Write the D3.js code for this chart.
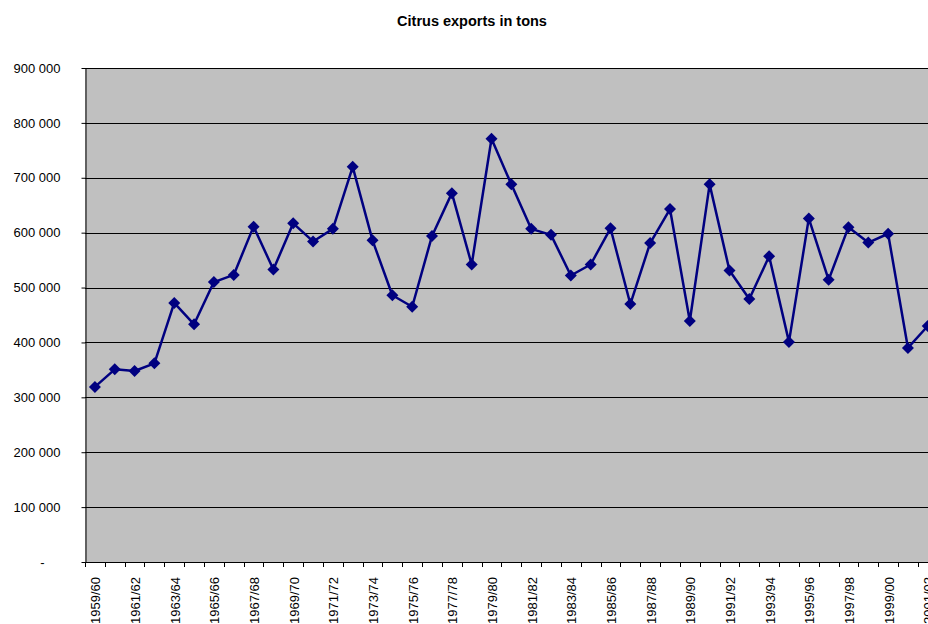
<!DOCTYPE html>
<html lang="en">
  <head>
    <meta charset="UTF-8" />
    <title>Citrus exports in tons</title>
    <script src="https://d3js.org/d3.v7.min.js"></script>
    <style>
      body { margin: 0; background: #fff; }
      svg { display: block; font-family: Arial, 'Liberation Sans', sans-serif; }
    </style>
  </head>
  <body>
    <script>
      let width = 928
      let height = 624

      // seasons, 1959/60 .. 2001/02 (chart is cut at the right edge)
      let seasons = [
        '1959/60', '1960/61', '1961/62', '1962/63', '1963/64', '1964/65',
        '1965/66', '1966/67', '1967/68', '1968/69', '1969/70', '1970/71',
        '1971/72', '1972/73', '1973/74', '1974/75', '1975/76', '1976/77',
        '1977/78', '1978/79', '1979/80', '1980/81', '1981/82', '1982/83',
        '1983/84', '1984/85', '1985/86', '1986/87', '1987/88', '1988/89',
        '1989/90', '1990/91', '1991/92', '1992/93', '1993/94', '1994/95',
        '1995/96', '1996/97', '1997/98', '1998/99', '1999/00', '2000/01',
        '2001/02'
      ]

      // exports in tons
      let exportsTons = [
        319000, 351000, 348000, 362000, 472000, 433000,
        510000, 523000, 611000, 533000, 617000, 584000,
        607000, 720000, 586000, 486000, 465000, 594000,
        672000, 542000, 771000, 688000, 607000, 596000,
        522000, 542000, 608000, 470000, 581000, 643000,
        439000, 688000, 531000, 479000, 557000, 401000,
        626000, 514000, 610000, 582000, 598000, 390000,
        430000
      ]

      let yTicks = [0, 100000, 200000, 300000, 400000, 500000, 600000, 700000, 800000, 900000]

      let margin = { top: 68, left: 85, bottom: 62 }
      let step = 19.83
      let plotRight = margin.left + seasons.length * step

      let x = d3.scaleBand()
        .domain(seasons)
        .range([margin.left, plotRight])
        .paddingInner(0)
        .paddingOuter(0)

      let y = d3.scaleLinear()
        .domain([0, 900000])
        .range([height - margin.bottom, margin.top])

      let svg = d3.select('body')
        .append('svg')
        .attr('width', width)
        .attr('height', height)

      // grey plot area
      svg.append('rect')
        .attr('x', margin.left)
        .attr('y', margin.top)
        .attr('width', plotRight - margin.left)
        .attr('height', y(0) - margin.top)
        .attr('fill', '#c0c0c0')

      // gridlines
      svg.append('g')
        .selectAll('line')
        .data(yTicks.filter(d => d > 0))
        .enter()
        .append('line')
        .attr('x1', margin.left)
        .attr('x2', plotRight)
        .attr('y1', d => Math.round(y(d)) + 0.5)
        .attr('y2', d => Math.round(y(d)) + 0.5)
        .attr('stroke', '#000')
        .attr('stroke-width', 1.2)

      // y axis
      let fmt = d => d === 0 ? '-' : d3.format(',')(d).replace(/,/g, ' ')
      let yAxis = svg.append('g')
        .attr('transform', `translate(${margin.left + 0.5},0)`)
        .call(d3.axisLeft(y).tickValues(yTicks).tickSize(4).tickSizeOuter(0).tickFormat(fmt))
      yAxis.select('.domain').attr('stroke', '#000')
      yAxis.selectAll('.tick line').attr('stroke', '#000')
      yAxis.selectAll('.tick text')
        .attr('x', -25)
        .attr('font-size', 13)
        .attr('font-family', 'Arial, Liberation Sans, sans-serif')
        .attr('fill', '#000')
        .filter(d => d === 0)
        .attr('x', -41)

      // x axis: ticks on band edges, labels on every other season
      let xg = svg.append('g')
      xg.append('line')
        .attr('x1', margin.left)
        .attr('x2', plotRight)
        .attr('y1', Math.round(y(0)) + 0.5)
        .attr('y2', Math.round(y(0)) + 0.5)
        .attr('stroke', '#000')
      xg.selectAll('line.tick')
        .data(seasons)
        .enter()
        .append('line')
        .attr('class', 'tick')
        .attr('x1', d => Math.round(x(d)) + 0.5)
        .attr('x2', d => Math.round(x(d)) + 0.5)
        .attr('y1', y(0))
        .attr('y2', y(0) + 5)
        .attr('stroke', '#000')
      xg.selectAll('text')
        .data(seasons.filter((d, i) => i % 2 === 0))
        .enter()
        .append('text')
        .attr('transform', d => `translate(${x(d) + x.bandwidth() / 2 + 1},${y(0) + 15}) rotate(-90)`)
        .attr('text-anchor', 'end')
        .attr('dy', '0.35em')
        .attr('font-size', 13)
        .text(d => d)

      // series line
      let line = d3.line()
        .x((d, i) => x(seasons[i]) + x.bandwidth() / 2)
        .y(d => y(d))

      svg.append('path')
        .datum(exportsTons)
        .attr('d', line)
        .attr('fill', 'none')
        .attr('stroke', '#000080')
        .attr('stroke-width', 2.5)
        .attr('stroke-linejoin', 'round')

      // diamond markers
      let r = 6
      svg.append('g')
        .selectAll('path')
        .data(exportsTons)
        .enter()
        .append('path')
        .attr('transform', (d, i) => `translate(${x(seasons[i]) + x.bandwidth() / 2},${y(d)})`)
        .attr('d', `M0,${-r}L${r},0L0,${r}L${-r},0Z`)
        .attr('fill', '#000080')

      // title
      svg.append('text')
        .attr('x', 472)
        .attr('y', 26)
        .attr('text-anchor', 'middle')
        .attr('font-weight', 'bold')
        .attr('font-size', 14.5)
        .text('Citrus exports in tons')
    </script>
  </body>
</html>
